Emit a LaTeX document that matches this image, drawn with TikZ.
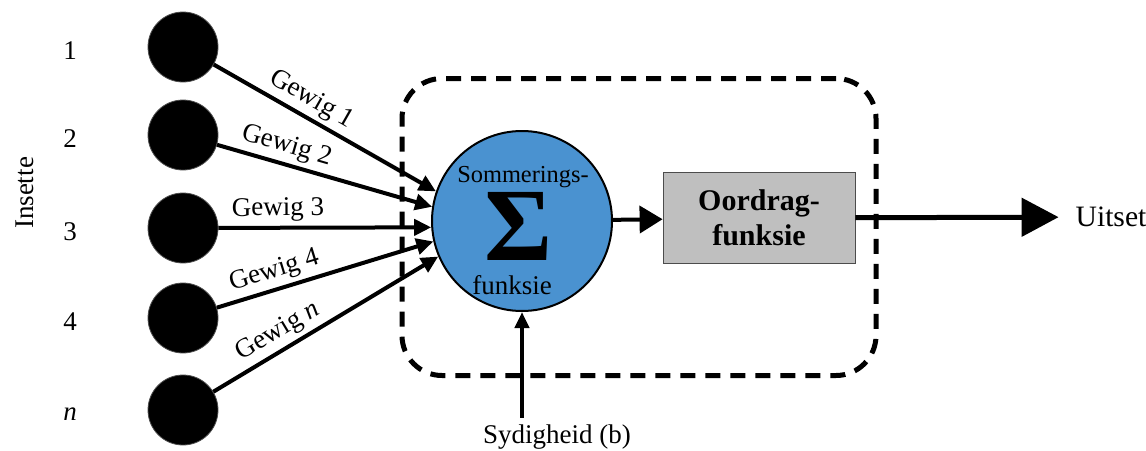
\documentclass[tikz,border=0pt]{standalone}
\usepackage{fontspec}
\setmainfont{Liberation Serif}
\usepackage{tikz}
\usetikzlibrary{positioning, arrows.meta, shapes.geometric}

\definecolor{sumblue}{RGB}{74,146,208}
\definecolor{tfgray}{RGB}{191,191,191}

\begin{document}
\begin{tikzpicture}[
  x=0.5pt, y=-0.5pt,
  font=\fontsize{13.5}{15}\selectfont,
  inp/.style={circle, fill=black, draw=black!70, minimum size=35pt, inner sep=0pt},
  wgt/.style={-{Triangle[length=8.5pt, width=8pt]}, line width=2pt},
  lbl/.style={sloped, above, inner sep=2pt},
]
\useasboundingbox (0,0) rectangle (1146,450);

\node[draw, line width=2.5pt, dash pattern=on 7.5pt off 5pt, rounded corners=20pt,
  minimum width=237pt, minimum height=148.5pt] (core) at (639,227) {};

\node[circle, draw, line width=1pt, fill=sumblue, minimum size=90pt, inner sep=0pt] (sum) at (522,221) {};
\node[font=\fontsize{12.2}{14}\selectfont] (sumtop) at (523,177) {Sommerings-};
\node[font=\fontsize{52}{52}\selectfont\bfseries] (sigma) at (518,226) {Σ};
\node (sumbot) at (512,285) {funksie};

\node[draw=black!70, fill=tfgray, minimum width=96pt, minimum height=45.5pt, align=center,
  font=\fontsize{15}{17.5}\selectfont\bfseries] (tf) at (759,218) {Oordrag-\\funksie};

\foreach \i/\y/\t in {1/47/1, 2/135/2, 3/228/3, 4/318/4, 5/410/{\textit{n}}} {
  \node[inp] (in\i) at (183,\y) {};
  \node (num\i) at (70,\y+4) {\t};
}
\node[rotate=90] (insette) at (25,193) {Insette};

\draw[wgt] (in1) -- node[lbl, pos=.4] {Gewig 1} (sum.161);
\draw[wgt] (in2) -- node[lbl, pos=.3] {Gewig 2} (sum.171);
\draw[wgt] (in3) -- node[lbl, pos=.28] {Gewig 3} (sum.184);
\draw[wgt] (in4) -- node[lbl, pos=.29] {Gewig 4} (sum.193);
\draw[wgt] (in5) -- node[lbl, pos=.33] {Gewig \textit{n}} (sum.203);

\draw[-{Triangle[length=11.5pt, width=13.5pt]}, line width=2pt] (sum) -- (tf);

\node[font=\fontsize{14.8}{16}\selectfont] (uitset) at (1111,217) {Uitset};
\draw[-{Triangle[length=18.5pt, width=19pt]}, line width=2.5pt, shorten >=5pt] (tf) -- (uitset);

\node (syd) at (557,437) {Sydigheid (b)};
\draw[-{Triangle[length=8pt, width=7pt]}, line width=2pt] (syd.north -| sum.south) -- (sum.south);
\end{tikzpicture}
\end{document}
